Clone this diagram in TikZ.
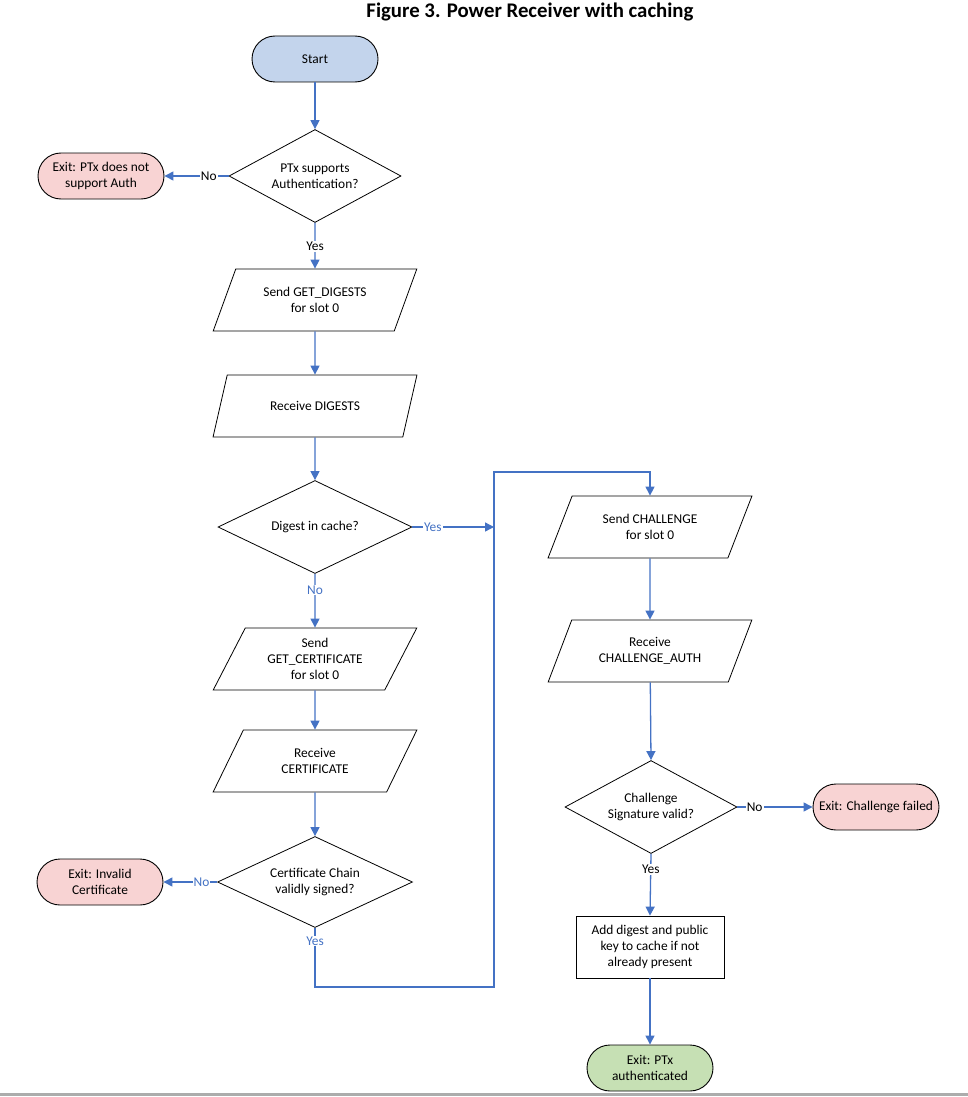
\documentclass[tikz,border=0pt]{standalone}
\usepackage{fontspec}
\setmainfont{Carlito}
\usetikzlibrary{shapes.geometric,arrows.meta}
\definecolor{flowblue}{HTML}{4472C4}
\definecolor{startfill}{HTML}{C3D4EC}
\definecolor{failfill}{HTML}{F8D3D3}
\definecolor{okfill}{HTML}{C6E0B4}
\begin{document}
\begin{tikzpicture}[x=1pt,y=-1pt,
	every node/.style={font=\fontsize{13.4}{16}\selectfont, align=center},
	term/.style={draw, rounded corners=23pt, minimum width=126pt, minimum height=46pt, line width=0.9pt},
	io/.style={draw, trapezium, trapezium left angle=64, trapezium right angle=116, trapezium stretches=true, minimum width=204pt, minimum height=62pt, line width=0.8pt},
	decide/.style={draw, diamond, aspect=2, inner sep=0pt, minimum height=93pt, line width=0.8pt},
	flow/.style={draw=flowblue, line width=1.3pt, -{Triangle[length=9pt,width=9pt]}},
	lbl/.style={fill=white, inner sep=1pt},
	blbl/.style={lbl, text=flowblue}]
	\useasboundingbox (0,0) rectangle (968,1097);
	\node[font=\fontsize{20.8}{23}\selectfont\bfseries] (title) at (530,12) {Figure 3. Power Receiver with caching};
	% left column
	\node[term, fill=startfill] (start) at (315,59) {Start};
	\node[decide, minimum width=172pt] (supp) at (315,176) {PTx supports\\Authentication?};
	\node[term, fill=failfill] (noauth) at (101,176) {Exit: PTx does not\\support Auth};
	\node[io] (getdig) at (315,300) {Send GET\_DIGESTS\\for slot 0};
	\node[io] (recdig) at (315,406) {Receive DIGESTS};
	\node[decide, minimum width=194pt] (incache) at (315,527) {Digest in cache?};
	\node[io] (getcert) at (315,659) {Send\\GET\_CERTIFICATE\\for slot 0};
	\node[io] (reccert) at (315,761) {Receive\\CERTIFICATE};
	\node[decide, minimum width=195pt, minimum height=91pt] (chain) at (315,882) {Certificate Chain\\validly signed?};
	\node[term, fill=failfill] (badcert) at (100,882) {Exit: Invalid\\Certificate};
	% right column
	\node[io] (sendch) at (650,527) {Send CHALLENGE\\for slot 0};
	\node[io] (recch) at (650,651) {Receive\\CHALLENGE\_AUTH};
	\node[decide, minimum width=172pt] (sigok) at (651,807) {Challenge\\Signature valid?};
	\node[term, fill=failfill] (chfail) at (876,807) {Exit: Challenge failed};
	\node[draw, line width=0.8pt, minimum width=148pt, minimum height=62pt] (addkey) at (650,947) {Add digest and public\\key to cache if not\\already present};
	\node[term, fill=okfill] (authok) at (650,1068) {Exit: PTx\\authenticated};
	\coordinate (loopbot) at (315,987);
	\coordinate (looptop) at (494,472);

	\draw[flow] (start) -- (supp);
	\draw[flow] (supp.west) -- node[lbl, pos=0.31]{No} (noauth.east);
	\draw[flow] (supp.south) -- node[lbl, pos=0.52]{Yes} (getdig.north);
	\draw[flow] (getdig) -- (recdig);
	\draw[flow] (recdig) -- (incache.north);
	\draw[flow] (incache.east) -- node[blbl, pos=0.25]{Yes} (incache.east -| looptop);
	\draw[flow] (incache.south) -- node[blbl, pos=0.3]{No} (getcert.north);
	\draw[flow] (getcert) -- (reccert);
	\draw[flow] (reccert) -- (chain.north);
	\draw[flow] (chain.west) -- node[blbl, pos=0.29]{No} (badcert.east);
	\draw[flow] (chain.south) -- node[blbl, pos=0.22]{Yes} (loopbot) -| (looptop) -| (sendch.north);
	\draw[flow] (sendch) -- (recch);
	\draw[flow] (recch) -- (sigok.north);
	\draw[flow] (sigok.east) -- node[lbl, pos=0.23]{No} (chfail.west);
	\draw[flow] (sigok.south) -- node[lbl, pos=0.25]{Yes} (addkey.north);
	\draw[flow] (addkey) -- (authok);
	\draw[line width=3pt, gray!65] (0,1094) -- (968,1094);
\end{tikzpicture}
\end{document}
